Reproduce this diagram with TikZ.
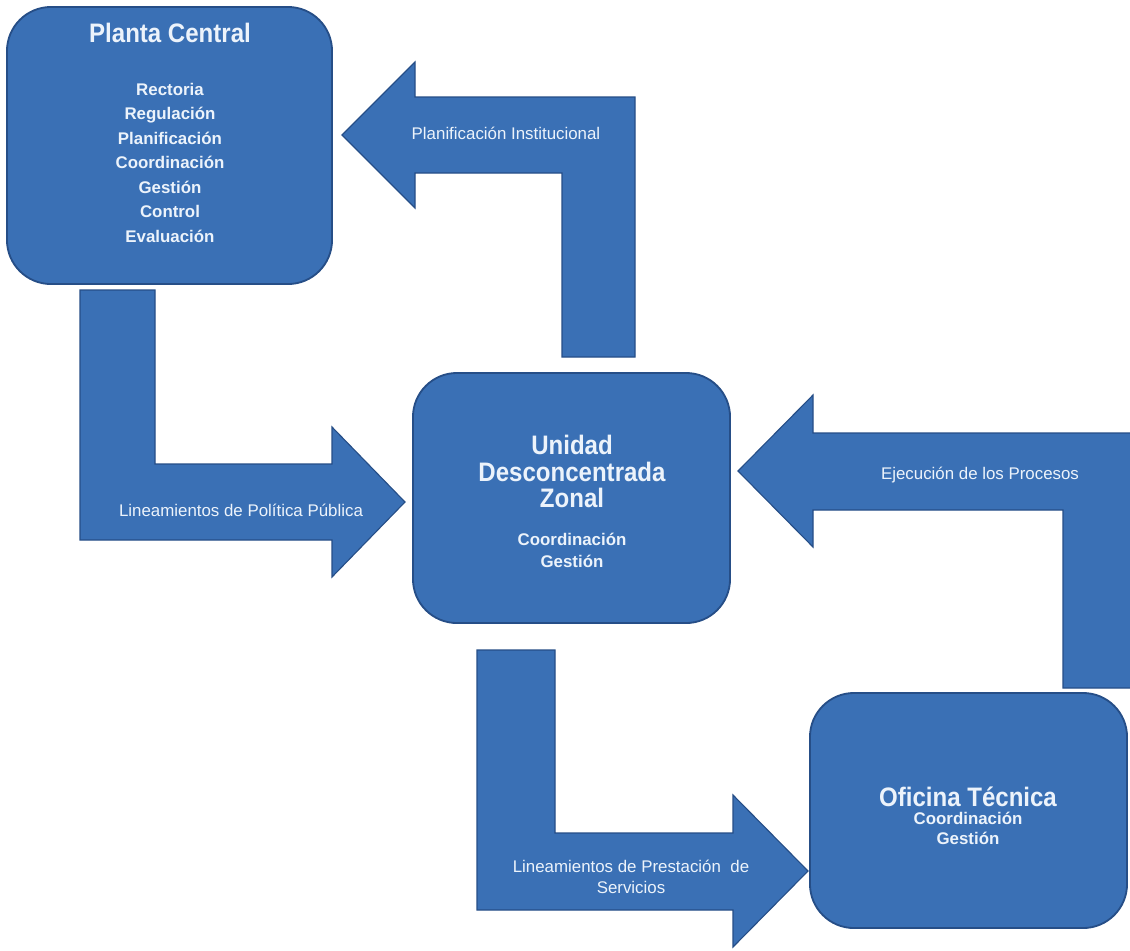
\documentclass[tikz,border=0pt]{standalone}
\usepackage{fontspec}
\setmainfont{Liberation Sans}
\newfontfamily\titlefont{Liberation Sans}[FakeStretch=0.9]
\definecolor{boxblue}{RGB}{58,112,181}
\definecolor{edgeblue}{RGB}{38,78,135}
\definecolor{txtwhite}{RGB}{236,243,251}

\begin{document}
\begin{tikzpicture}[x=0.025cm, y=0.025cm]
\tikzstyle{every node}+=[inner sep=0pt, text=txtwhite]
\tikzstyle{box}=[draw=edgeblue, fill=boxblue, line width=1.3pt, rounded corners=1.1cm, rectangle]
\tikzstyle{bentarrow}=[draw=edgeblue, fill=boxblue, line width=0.8pt, line join=miter]
\tikzstyle{titletext}=[align=center, anchor=north, font=\titlefont\bfseries\fontsize{19}{18.8}\selectfont]
\tikzstyle{itemtext}=[align=center, anchor=north, font=\bfseries\fontsize{12}{15.6}\selectfont]
\tikzstyle{arrowtext}=[align=center, font=\fontsize{12}{15}\selectfont]
\useasboundingbox [fill=white] (0,0) rectangle (1130,-950);
% flechas
\draw [bentarrow] (342,-135) -- (415,-62) -- (415,-97) -- (635,-97) -- (635,-357) -- (562,-357) -- (562,-173) -- (415,-173) -- (415,-208) -- cycle;
\draw [bentarrow] (80,-290) -- (155,-290) -- (155,-464) -- (332,-464) -- (332,-427) -- (405,-502) -- (332,-577) -- (332,-540) -- (80,-540) -- cycle;
\draw [bentarrow] (738,-471) -- (813,-395) -- (813,-433) -- (1140,-433) -- (1140,-688) -- (1063,-688) -- (1063,-510) -- (813,-510) -- (813,-547) -- cycle;
\draw [bentarrow] (477,-650) -- (555,-650) -- (555,-833) -- (733,-833) -- (733,-795) -- (808,-871) -- (733,-947) -- (733,-910) -- (477,-910) -- cycle;
% cajas
\node [box, minimum width=8.125cm, minimum height=6.925cm] (planta) at (169.5,-145.5) {};
\node [box, minimum width=7.925cm, minimum height=6.25cm] (unidad) at (571.5,-498) {};
\node [box, minimum width=7.925cm, minimum height=5.875cm] (oficina) at (968.5,-810.5) {};
% textos de las cajas
\node [titletext] (plantaTit) at (170,-23) {Planta Central};
\node [itemtext, font=\bfseries\fontsize{12}{17.4}\selectfont] (plantaFun) at (170,-83) {Rectoria\\Regulación\\Planificación\\Coordinación\\Gestión\\Control\\Evaluación};
\node [titletext] (unidadTit) at (572,-435) {Unidad\\Desconcentrada\\Zonal};
\node [itemtext] (unidadFun) at (572,-533) {Coordinación\\Gestión};
\node [titletext] (oficinaTit) at (968,-787) {Oficina Técnica};
\node [itemtext, font=\bfseries\fontsize{12}{14.2}\selectfont] (oficinaFun) at (968,-812) {Coordinación\\Gestión};
% textos de las flechas
\node [arrowtext] (planInst) at (506,-133) {Planificación Institucional};
\node [arrowtext] (polPub) at (241,-510) {Lineamientos de Política Pública};
\node [arrowtext] (ejecProc) at (980,-475) {Ejecución de los Procesos};
\node [arrowtext] (prestServ) at (631,-877) {Lineamientos de Prestación\ \ de\\Servicios};
\end{tikzpicture}
\end{document}
